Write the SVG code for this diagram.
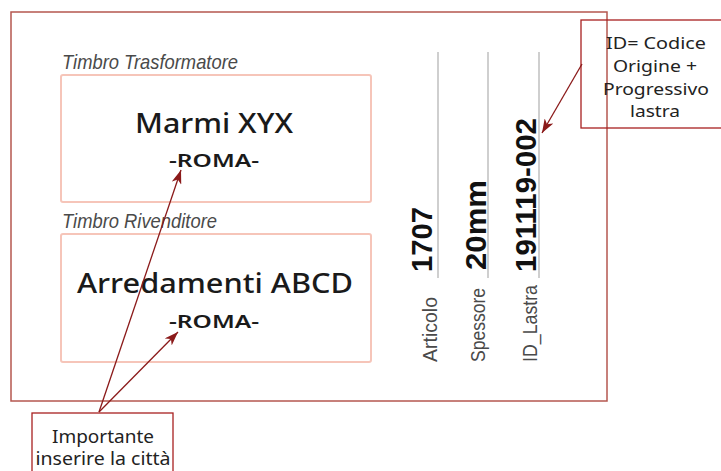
<svg xmlns="http://www.w3.org/2000/svg" width="721" height="471" viewBox="0 0 721 471">
<style>
.cap{font-family:"Liberation Sans",Arial,sans-serif;font-style:italic;fill:#4a4a4a;font-size:21px}
.main{font-family:"Noto Sans","Open Sans",sans-serif;font-weight:500;fill:#1a1a1a;text-anchor:middle}
.city{font-family:"Noto Sans","Open Sans",sans-serif;font-weight:600;fill:#1a1a1a;text-anchor:middle;font-size:18px}
.note{font-family:"Noto Sans","Open Sans",sans-serif;font-weight:400;fill:#222;text-anchor:middle;font-size:18px}
.note2{font-family:"Noto Sans","Open Sans",sans-serif;font-weight:400;fill:#222;text-anchor:middle;font-size:16.5px}
.val{font-family:"Liberation Sans",Arial,sans-serif;font-weight:bold;fill:#111;font-size:30px}
.lab{font-family:"Liberation Sans",Arial,sans-serif;fill:#4a4a4a;font-size:20px}
.stamp{fill:none;stroke:#f6c5b9;stroke-width:2}
.nbox{fill:none;stroke:#a82020;stroke-width:1.3}
.vline{stroke:#cfcfcf;stroke-width:2}
.arr{stroke:#8b1a1a;stroke-width:1.3;fill:none;marker-end:url(#ah)}
</style>
<defs>
<marker id="ah" markerUnits="userSpaceOnUse" viewBox="0 0 14 10" refX="14" refY="5" markerWidth="14" markerHeight="10" orient="auto">
<path d="M0,0 L14,5 L0,10 L4,5 z" fill="#8b1a1a"/>
</marker>
</defs>
<rect width="721" height="471" fill="#fff"/>
<g id="frame">
<rect x="11" y="12" width="596" height="389" fill="none" stroke="#b5574f" stroke-width="1.5"/>
</g>
<g id="timbro-trasformatore">
<text class="cap" x="62" y="69" textLength="176" lengthAdjust="spacingAndGlyphs">Timbro Trasformatore</text>
<rect class="stamp" x="61" y="75" width="310" height="127" rx="2"/>
<text class="main" x="214" y="133" font-size="27" textLength="158" lengthAdjust="spacingAndGlyphs">Marmi XYX</text>
<text class="city" x="214" y="167" textLength="90" lengthAdjust="spacingAndGlyphs">-ROMA-</text>
</g>
<g id="timbro-rivenditore">
<text class="cap" x="62" y="228" textLength="155" lengthAdjust="spacingAndGlyphs">Timbro Rivenditore</text>
<rect class="stamp" x="61" y="234" width="310" height="128" rx="2"/>
<text class="main" x="215" y="293" font-size="27" textLength="276" lengthAdjust="spacingAndGlyphs">Arredamenti ABCD</text>
<text class="city" x="214" y="328" textLength="90" lengthAdjust="spacingAndGlyphs">-ROMA-</text>
</g>
<g id="dati">
<line class="vline" x1="438" y1="52" x2="438" y2="278"/>
<line class="vline" x1="488" y1="52" x2="488" y2="278"/>
<line class="vline" x1="539" y1="52" x2="539" y2="278"/>
<text class="val" transform="translate(432,272) rotate(-90)" textLength="65" lengthAdjust="spacingAndGlyphs">1707</text>
<text class="val" transform="translate(486,270) rotate(-90)" textLength="90" lengthAdjust="spacingAndGlyphs">20mm</text>
<text class="val" transform="translate(536,272) rotate(-90)" textLength="154" lengthAdjust="spacingAndGlyphs">191119-002</text>
<text class="lab" transform="translate(437,362) rotate(-90)" textLength="65" lengthAdjust="spacingAndGlyphs">Articolo</text>
<text class="lab" transform="translate(485,362) rotate(-90)" textLength="74" lengthAdjust="spacingAndGlyphs">Spessore</text>
<text class="lab" transform="translate(537,362) rotate(-90)" textLength="77" lengthAdjust="spacingAndGlyphs">ID_Lastra</text>
</g>
<g id="nota-citta">
<rect class="nbox" x="32" y="413" width="141" height="70"/>
<text class="note" x="103" y="443" textLength="102" lengthAdjust="spacingAndGlyphs">Importante</text>
<text class="note" x="103" y="465" textLength="135" lengthAdjust="spacingAndGlyphs">inserire la città</text>
</g>
<g id="nota-id">
<rect class="nbox" x="581" y="20" width="150" height="108"/>
<text class="note2" x="656" y="49" textLength="100" lengthAdjust="spacingAndGlyphs">ID= Codice</text>
<text class="note2" x="655" y="72" textLength="84" lengthAdjust="spacingAndGlyphs">Origine +</text>
<text class="note2" x="656" y="95" textLength="106" lengthAdjust="spacingAndGlyphs">Progressivo</text>
<text class="note2" x="655" y="117" textLength="50" lengthAdjust="spacingAndGlyphs">lastra</text>
</g>
<g id="connectors">
<line class="arr" x1="99" y1="412" x2="181" y2="170"/>
<line class="arr" x1="99" y1="412" x2="178" y2="332"/>
<line class="arr" x1="582" y1="64" x2="542" y2="133"/>
</g>
</svg>
